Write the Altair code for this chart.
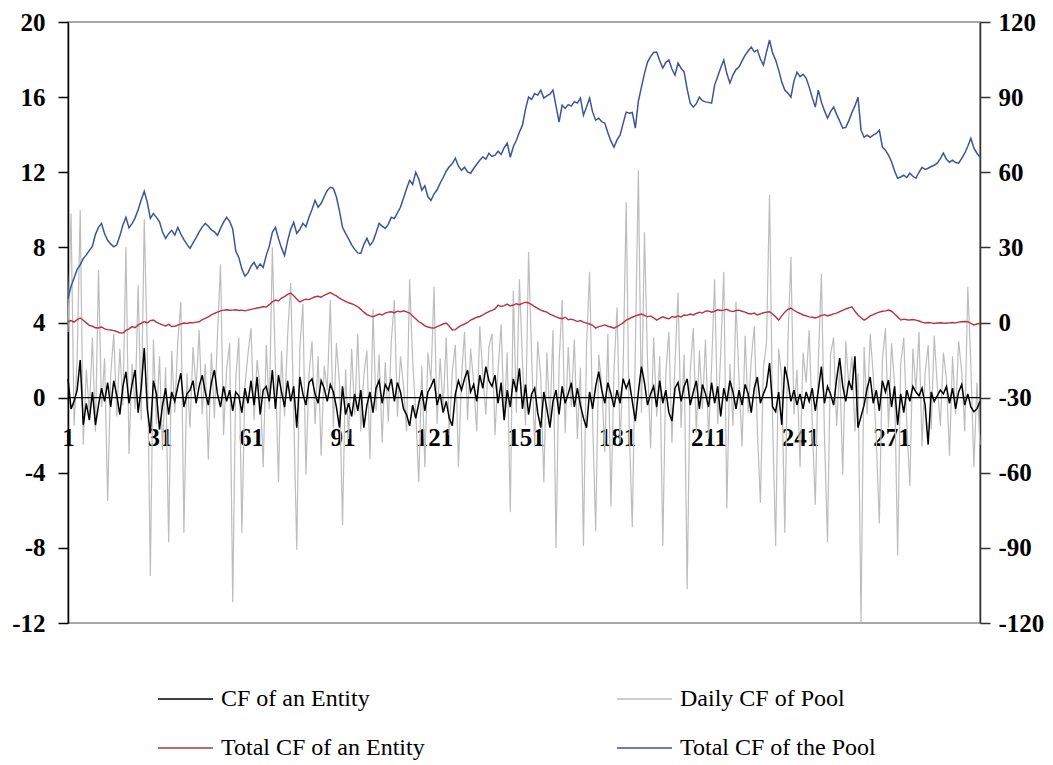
import altair as alt
import pandas as pd

days = list(range(1, 301))

# CF of an Entity (left axis)
cf_entity = [
    1.0, -0.6, -0.2, 0.4, 2.0, -1.46, -0.3, -1.2, 0.3, -1.46,
    -0.4, 0.5, -0.2, 0.8, -0.5, 0.9, 0.1, -0.9, 0.6, 1.38,
    -0.3, 0.7, 1.47, -0.8, 0.5, 2.64, -0.6, -1.9, 0.9, 0.2,
    -1.7, -0.4, 0.5, -0.9, 0.3, -0.2, 0.6, 1.3, -0.5, 0.2,
    0.4, 0.9, -0.3, 0.6, 1.2, 0.3, -0.4, 0.8, 1.47, 0.2,
    -0.5, 0.6, -0.2, 0.4, -0.7, 0.3, 0.1, -0.8, 0.5, -0.3,
    0.9, -0.4, 1.1, -0.9, 0.4, 0.6, -0.2, 1.47, -0.6, 1.2,
    0.3, -0.5, 0.9, -0.2, 0.6, -1.6, 1.1, 0.2, -0.4, 0.8,
    1.0, 0.2, -0.3, 0.9, 0.5, -0.2, 0.7, 0.3, -0.5, -1.6,
    0.6, -0.9, -0.3, -1.0, 0.2, -0.7, 0.4, -1.6, -0.4, 0.3,
    -0.8, 0.5, 0.9, -0.3, 0.7, 0.4, 1.0, -0.2, 0.8, 0.3,
    -0.6, -0.9, -1.5, -0.4, -1.1, -0.3, 0.4, -0.7, 0.3, 0.6,
    1.0, -0.4, 0.2, -0.8, -0.2, -1.1, -1.5, 0.2, 0.9, 0.4,
    1.0, 1.47, 0.3, 0.7, -0.2, 1.2, 0.5, 1.65, 0.9, 0.6,
    1.2, -0.3, 0.8, -1.2, 0.4, -0.5, 1.0, 0.3, 1.56, -0.6,
    0.7, -0.9, 0.2, 0.5, -0.8, -1.6, 0.3, -0.6, -1.6, -0.2,
    0.4, -0.9, 0.6, -0.3, 0.2, 0.8, -0.5, 0.5, -0.4, -1.1,
    -1.6, 0.3, -0.6, 0.6, 1.38, 0.4, -0.3, 0.8, 0.2, -0.5,
    0.4, -0.3, 1.0, 0.5, 0.9, -0.2, -1.25, 0.3, 1.65, 0.8,
    -0.4, 0.2, 0.6, -0.5, 0.9, -0.3, 0.4, -0.8, -1.25, 0.5,
    0.8, -0.2, 0.6, 1.0, -0.4, 0.3, 0.9, -0.6, 0.7, 0.2,
    -0.5, 0.8, -0.3, 0.6, -1.0, 0.5, -0.2, 0.9, 0.3, -0.6,
    0.4, -0.4, 0.7, 0.2, -0.8, 0.5, 1.1, -0.3, 0.2, 0.6,
    1.84, -0.5, -0.75, 0.3, -1.46, 1.65, 0.9, -0.2, 0.4, -0.4,
    0.2, -0.6, 0.3, -0.2, 0.5, -0.7, 0.4, 1.65, -0.3, 0.6,
    0.2, -0.4, 1.0, 2.1, 0.6, -0.2, 0.9, 0.4, 2.2, -1.6,
    -1.0, -0.4, 0.5, 1.1, -0.3, 0.4, -0.7, 0.9, 0.3, 0.94,
    -0.5, 0.6, -1.46, 0.2, -0.8, 0.4, -0.2, 0.6, 0.3, 0.1,
    0.5, -0.4, -2.5, 0.3, -0.2, 0.1, 0.4, 0.2, 0.6, -0.3,
    0.5, -0.6, 0.3, 0.7, -0.4, 0.2, -0.5, -0.75, -0.6, -0.2,
]

# Daily CF of Pool (left axis)
daily_cf_pool = [
    3.5, 9.8, -1.5, 2.0, 10.0, -2.5, 1.5, -0.8, 3.2, -1.8,
    6.8, -0.5, 2.1, -5.5, 1.2, 3.4, -1.0, 2.6, -0.4, 8.0,
    -3.0, 1.8, -0.6, 6.0, -1.2, 9.5, 2.4, -9.5, 3.1, -1.4,
    2.2, -2.8, 1.6, -7.7, 2.5, -0.8, 3.0, 5.1, -7.2, 1.3,
    -1.6, 2.7, 0.4, 3.6, -0.9, 1.8, -3.3, 2.4, -1.1, 3.3,
    7.1, -2.0, 1.5, 2.9, -10.9, 1.0, 3.2, -7.2, 0.6, 2.3,
    3.7, -1.2, 2.0, 0.5, -3.7, 2.8, -0.6, 8.0, 1.6, -4.5,
    2.5, -1.0, 3.3, 6.1, -0.8, -8.1, 2.6, 5.0, -4.1, 1.2,
    3.0, -1.4, 2.2, -3.1, 1.7, 0.4, 5.2, -1.6, 2.9, 0.8,
    -6.8, 1.5, -2.2, 2.6, -0.9, 3.4, -1.8, 1.2, 2.5, -3.3,
    4.7, -0.7, 2.3, -2.4, 1.9, -1.3, 3.0, 5.2, -1.0, 2.2,
    0.6, -1.8, 6.3, 2.0, -0.8, -4.5, 1.7, -3.7, 2.4, 0.9,
    5.9, -1.4, 2.1, -0.6, 3.2, -2.0, 1.4, 2.8, -3.7, 1.0,
    3.5, -1.2, 2.6, 0.8, -1.8, 3.8, 1.2, -0.9, 2.7, 3.4,
    -2.0, 1.5, 3.9, -1.1, 2.4, -6.1, 5.7, -0.8, 6.3, 1.9,
    -1.5, 7.75, 2.2, -2.6, 3.0, 1.1, -4.5, 2.4, -1.3, 3.6,
    -8.0, 1.8, 5.2, -1.9, 2.7, -0.5, 3.1, -2.2, 1.6, -7.9,
    2.8, 6.7, -1.2, -7.1, 2.3, 0.6, -2.9, 3.4, -5.8, 1.4,
    4.8, -2.4, 1.5, 10.4, -1.6, -6.9, 2.6, 12.1, -0.8, 8.8,
    1.9, -2.7, 3.2, -1.0, 2.2, -7.9, 1.3, 3.5, -2.4, 1.8,
    5.6, -1.6, 2.3, -10.2, 1.4, 3.7, -1.9, 2.5, -0.6, 3.1,
    -2.2, 1.6, 6.3, -1.4, 2.4, 6.7, -5.9, 1.8, -1.5, 5.1,
    0.9, -2.6, 3.3, -0.8, 2.0, 3.8, -1.7, -5.6, 1.6, 2.9,
    10.8, -1.2, -7.9, 2.6, 1.1, -7.2, 2.8, 7.5, -0.9, 1.5,
    -3.7, 2.4, 0.8, 3.6, -1.4, -5.7, 1.9, 6.6, -2.0, -7.7,
    2.3, 3.2, -1.5, 1.7, -4.1, 3.0, 0.6, 2.2, -1.8, 1.3,
    -12.0, 2.7, -0.9, 3.4, 1.2, -2.3, -6.7, 2.0, 3.7, -1.6,
    2.9, 0.7, -8.4, 1.8, 3.2, -1.4, -4.7, 2.6, 0.4, 3.5,
    -2.6, 1.3, 2.8, -1.7, 3.3, 0.6, -1.5, 2.4, 1.0, -3.1,
    2.2, -0.9, 3.0, 1.4, -1.8, 5.9, 1.7, -3.7, 0.8, -2.5,
]

# Total CF of an Entity (left axis)
total_cf_entity = [
    4.04, 4.10, 4.02, 4.15, 4.24, 4.12, 3.98, 3.85, 3.80, 3.72,
    3.71, 3.76, 3.66, 3.62, 3.60, 3.57, 3.52, 3.45, 3.44, 3.58,
    3.66, 3.78, 3.72, 3.87, 3.95, 4.05, 3.98, 4.10, 4.13, 4.02,
    3.94, 3.87, 3.82, 3.90, 3.78, 3.80, 3.86, 3.92, 3.97, 3.95,
    4.00, 3.98, 4.02, 4.04, 4.15, 4.22, 4.30, 4.40, 4.48, 4.55,
    4.62, 4.66, 4.68, 4.65, 4.66, 4.68, 4.64, 4.66, 4.62, 4.66,
    4.70, 4.74, 4.77, 4.80, 4.85, 4.82, 4.95, 5.10, 5.20, 5.15,
    5.30, 5.38, 5.50, 5.57, 5.42, 5.25, 5.10, 5.18, 5.24, 5.22,
    5.30, 5.37, 5.40, 5.35, 5.45, 5.52, 5.59, 5.50, 5.42, 5.30,
    5.20, 5.12, 5.05, 5.00, 4.92, 4.84, 4.70, 4.55, 4.42, 4.35,
    4.31, 4.38, 4.45, 4.40, 4.50, 4.55, 4.57, 4.52, 4.60, 4.57,
    4.62, 4.57, 4.50, 4.35, 4.20, 4.04, 3.95, 3.82, 3.76, 3.72,
    3.70, 3.78, 3.85, 3.92, 3.97, 3.80, 3.60, 3.62, 3.75, 3.85,
    3.92, 4.00, 4.13, 4.20, 4.28, 4.32, 4.40, 4.50, 4.58, 4.65,
    4.72, 4.93, 4.85, 4.90, 4.98, 4.88, 4.93, 5.00, 4.95, 5.02,
    5.08, 5.04, 4.95, 4.85, 4.75, 4.66, 4.60, 4.55, 4.45, 4.38,
    4.30, 4.24, 4.20, 4.28, 4.15, 4.18, 4.13, 4.05, 4.10, 4.02,
    3.97, 3.92, 3.85, 3.70, 3.78, 3.82, 3.87, 3.80, 3.76, 3.70,
    3.78, 3.88, 3.98, 4.13, 4.20, 4.28, 4.35, 4.40, 4.45, 4.38,
    4.30, 4.35, 4.25, 4.13, 4.22, 4.30, 4.24, 4.20, 4.31, 4.28,
    4.35, 4.30, 4.40, 4.38, 4.45, 4.40, 4.48, 4.55, 4.50, 4.60,
    4.62, 4.55, 4.60, 4.68, 4.64, 4.66, 4.70, 4.62, 4.58, 4.64,
    4.66, 4.60, 4.55, 4.48, 4.45, 4.50, 4.40, 4.46, 4.52, 4.55,
    4.57, 4.45, 4.30, 4.13, 4.35, 4.55, 4.70, 4.77, 4.65, 4.55,
    4.48, 4.40, 4.35, 4.30, 4.28, 4.24, 4.30, 4.38, 4.42, 4.35,
    4.40, 4.46, 4.50, 4.58, 4.65, 4.72, 4.78, 4.84, 4.60, 4.40,
    4.25, 4.13, 4.22, 4.35, 4.42, 4.50, 4.55, 4.60, 4.62, 4.66,
    4.60, 4.45, 4.30, 4.13, 4.18, 4.15, 4.13, 4.16, 4.13, 4.08,
    4.02, 3.97, 4.00, 3.98, 3.95, 3.97, 3.99, 3.97, 3.96, 3.98,
    4.00, 3.98, 4.02, 4.04, 4.05, 4.04, 3.95, 3.87, 3.92, 3.96,
]

# Total CF of the Pool (right axis)
total_cf_pool = [
    9.6, 14.5, 17.8, 21.2, 23.0, 25.5, 27.0, 28.8, 30.4, 35.2,
    38.0, 39.6, 35.4, 32.8, 31.4, 30.2, 31.0, 34.6, 38.9, 42.0,
    37.8, 39.5, 41.8, 45.0, 48.9, 52.4, 48.0, 41.6, 43.5, 42.0,
    40.2, 36.1, 33.6, 35.5, 36.8, 34.9, 38.0, 35.3, 33.1, 31.2,
    29.6, 31.8, 33.9, 36.2, 38.1, 39.6, 38.4, 37.0, 36.2, 34.8,
    37.6, 40.1, 42.0, 40.4, 37.4, 28.5, 26.0, 21.4, 18.5, 19.8,
    22.5, 24.0, 21.6, 23.4, 22.0, 26.8, 30.5, 36.0, 38.0, 33.5,
    29.8, 26.8, 32.6, 37.2, 40.0, 35.6, 37.1, 39.6, 38.2, 42.0,
    45.1, 48.8, 46.0, 47.6, 50.2, 52.7, 54.0, 53.6, 50.1, 44.6,
    38.0, 35.6, 33.4, 31.0, 29.2, 27.8, 27.6, 31.2, 33.6, 30.8,
    32.4, 35.8, 39.6, 38.5, 37.6, 39.2, 42.0, 41.5, 43.8, 46.0,
    49.7, 53.4, 56.8, 55.1, 60.0, 57.3, 52.8, 54.6, 50.2, 48.8,
    51.3, 53.0, 55.6, 57.9, 60.4, 62.2, 63.5, 65.6, 62.4, 60.8,
    62.0, 60.1, 59.6, 61.5, 63.2, 64.8, 66.1, 65.2, 67.6, 66.3,
    66.8, 68.4, 67.1, 69.8, 71.6, 66.0, 70.2, 72.8, 76.1, 78.8,
    85.2, 90.0, 89.1, 91.4, 90.8, 92.8, 89.6, 90.5, 91.2, 92.8,
    86.4, 80.0, 86.8, 85.5, 87.0, 86.4, 88.2, 87.6, 89.6, 82.8,
    86.1, 89.6, 84.0, 80.8, 81.6, 80.2, 79.6, 75.8, 72.4, 70.0,
    72.9, 74.8, 79.5, 84.0, 83.6, 83.9, 77.6, 88.4, 94.0, 99.5,
    104.0, 106.2, 107.8, 108.0, 104.5, 101.6, 103.9, 104.8, 101.2, 98.8,
    103.6, 101.5, 100.0, 93.2, 87.6, 86.0, 87.4, 90.0, 88.6, 88.1,
    87.9, 87.6, 94.8, 98.2, 101.7, 104.8, 99.4, 95.6, 98.8, 101.0,
    102.0, 104.5, 106.8, 108.4, 110.0, 108.1, 108.8, 105.2, 102.8, 108.0,
    112.8, 107.6, 104.8, 100.8, 96.0, 92.8, 91.6, 90.0, 96.4, 100.0,
    98.2, 99.1, 97.6, 94.0, 89.8, 86.0, 92.8, 88.0, 84.6, 81.6,
    84.2, 86.0, 83.1, 80.4, 77.6, 77.9, 80.6, 83.8, 86.5, 90.0,
    76.8, 74.0, 74.8, 73.9, 74.8, 75.5, 76.8, 70.0, 68.8, 66.8,
    64.2, 60.5, 57.6, 58.1, 58.8, 57.9, 59.6, 58.4, 57.6, 60.0,
    62.0, 61.1, 61.6, 62.3, 62.8, 63.6, 65.4, 67.6, 65.2, 64.0,
    64.8, 63.9, 63.6, 65.5, 67.6, 70.4, 73.6, 69.6, 67.6, 66.0,
]

series_names = ["CF of an Entity", "Daily CF of Pool", "Total CF of an Entity", "Total CF of the Pool"]
series_colors = ["#000000", "#BDBDBD", "#B8323F", "#3C5599"]

x_ticks = [1, 31, 61, 91, 121, 151, 181, 211, 241, 271]
left_ticks = [-12, -8, -4, 0, 4, 8, 12, 16, 20]
right_ticks = [-120, -90, -60, -30, 0, 30, 60, 90, 120]
zero_level = [0]

FONT = "Liberation Serif"
PLAIN_MINUS = "'' + datum.value"


def frame(values, name):
    return pd.DataFrame({"day": days, "value": values, "series": name})


x_axis = alt.Axis(
    values=x_ticks, title=None, grid=False, domain=False, ticks=False, tickSize=0,
    labelFont=FONT, labelFontSize=25, labelFontWeight="bold", labelColor="black",
    labelPadding=0, labelBaseline="middle", offset=-186,
    labelFlush=False, labelOverlap=False,
)
x_enc = alt.X("day:Q", scale=alt.Scale(domain=[1, 300], nice=False, zero=False), axis=x_axis)

left_axis = alt.Axis(
    values=left_ticks, title=None, grid=False, orient="left",
    domainColor="black", domainWidth=1.5, tickColor="black", tickWidth=1.5, tickSize=10,
    labelFont=FONT, labelFontSize=25, labelFontWeight="bold", labelColor="black",
    labelPadding=13, labelFlush=False, labelOverlap=False, labelExpr=PLAIN_MINUS,
)
left_scale = alt.Scale(domain=[-12, 20], nice=False, zero=False)

right_axis = alt.Axis(
    values=right_ticks, title=None, grid=False, orient="right",
    domainColor="#333333", domainWidth=1.5, tickColor="#333333", tickWidth=1.5, tickSize=10,
    labelFont=FONT, labelFontSize=25, labelFontWeight="bold", labelColor="black",
    labelPadding=8, labelFlush=False, labelOverlap=False, labelExpr=PLAIN_MINUS,
)
right_scale = alt.Scale(domain=[-120, 120], nice=False, zero=False)

legend = alt.Legend(
    title=None, orient="none", legendX=89, legendY=665, columns=2, direction="horizontal",
    symbolType="stroke", symbolSize=3025, symbolStrokeWidth=1.6,
    labelFont=FONT, labelFontSize=24, labelFontWeight="normal", labelColor="black",
    labelOffset=7, labelLimit=400, columnPadding=191, rowPadding=25, clipHeight=24,
)
color_enc = alt.Color(
    "series:N", scale=alt.Scale(domain=series_names, range=series_colors), legend=legend
)


def line(values, name, width):
    return alt.Chart(frame(values, name)).mark_line(strokeWidth=width).encode(
        x=x_enc,
        y=alt.Y("value:Q", scale=left_scale, axis=left_axis),
        color=color_enc,
    )


gray = line(daily_cf_pool, series_names[1], 1.2)
zero_rule = alt.Chart(pd.DataFrame({"value": zero_level})).mark_rule(
    color="black", strokeWidth=1.4
).encode(y=alt.Y("value:Q", scale=left_scale, axis=left_axis))
black = line(cf_entity, series_names[0], 1.5)
red = line(total_cf_entity, series_names[2], 1.4)

left_layer = alt.layer(gray, zero_rule, black, red)

blue = alt.Chart(frame(total_cf_pool, series_names[3])).mark_line(strokeWidth=1.5).encode(
    x=x_enc,
    y=alt.Y("value:Q", scale=right_scale, axis=right_axis),
    color=color_enc,
)

chart = (
    alt.layer(left_layer, blue)
    .resolve_scale(y="independent")
    .properties(
        width=912,
        height=601,
        autosize=alt.AutoSizeParams(type="none"),
        padding={"left": 60, "top": 14, "right": 65, "bottom": 142},
        background="white",
    )
    .configure_view(stroke="#8C8C8C", strokeWidth=1.5)
)

chart.save("out.html", embed_options={"renderer": "svg", "actions": False})
